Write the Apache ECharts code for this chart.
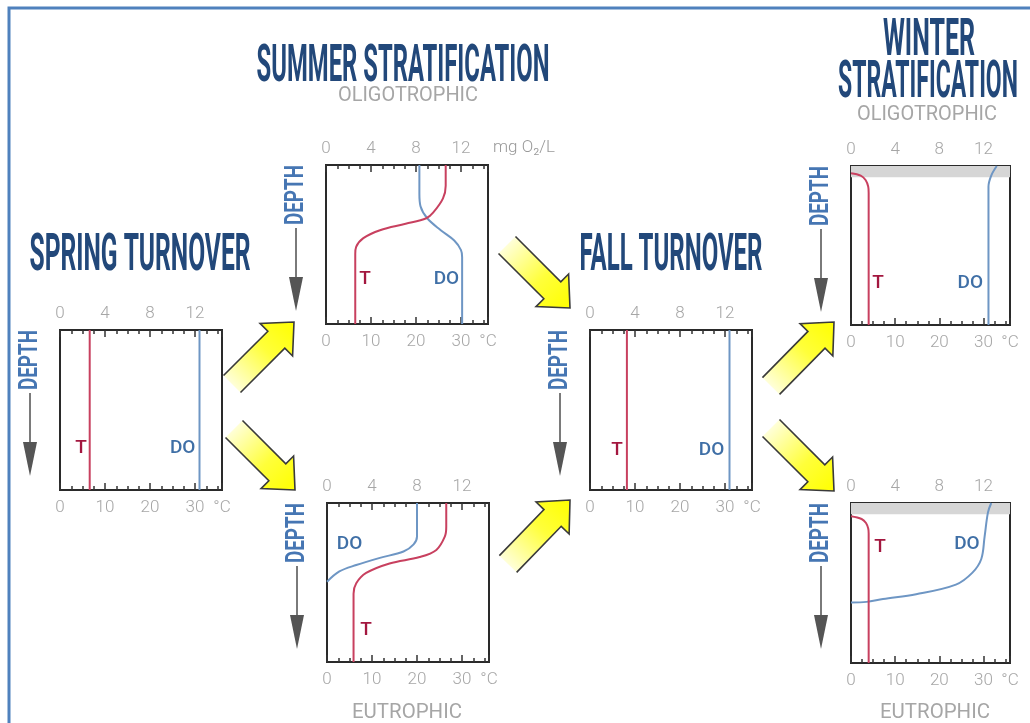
<!DOCTYPE html>
<html>
<head>
<meta charset="utf-8">
<style>
  html, body { margin: 0; padding: 0; background: #fff; }
  #main { width: 1030px; height: 723px; }
</style>
<script src="https://cdn.jsdelivr.net/npm/echarts@6/dist/echarts.min.js"></script>
</head>
<body>
<div id="main"></div>
<script>
// depth profiles as [value, depth %]; T in °C (bottom axis), DO in mg O2/L (top axis)
var springT = [[6.6, 0], [6.6, 100]]
var springDO = [[12.4, 0], [12.4, 100]]
var summerOligoT = [[26.6, 0], [26.6, 13], [26.0, 21], [23.8, 30], [22.3, 33.5], [17.7, 37], [12.0, 41], [8.3, 46], [6.7, 51.5], [6.5, 56], [6.5, 100]]
var summerOligoDO = [[8.3, 0], [8.3, 18], [8.4, 26], [9.0, 33.5], [10.2, 41], [11.4, 47.5], [12.0, 53.5], [12.1, 58], [12.1, 100]]
var summerEutroT = [[26.5, 0], [26.5, 15], [26.2, 21], [24.3, 29.5], [20.6, 34], [13.9, 38], [8.7, 44], [6.5, 50.5], [5.9, 57], [5.9, 100]]
var summerEutroDO = [[8.0, 0], [8.0, 21], [7.7, 26], [6.8, 30.5], [4.7, 34.5], [2.6, 39], [1.1, 43], [0, 49.5]]
var fallT = [[8.2, 0], [8.2, 100]]
var fallDO = [[12.4, 0], [12.4, 100]]
var winterOligoT = [[0, 4.5], [2.2, 6], [3.3, 8.8], [3.9, 13], [4.0, 17], [4.0, 100]]
var winterOligoDO = [[13.2, 0], [12.7, 6], [12.45, 13], [12.45, 100]]
var winterEutroT = [[0, 8.3], [2.4, 10], [3.4, 12.5], [3.9, 16], [4.0, 19], [4.0, 100]]
var winterEutroDO = [[12.7, 0], [12.4, 6], [12.1, 21], [11.8, 35], [11.0, 43.5], [9.5, 51], [5.9, 57], [2.9, 60], [1.4, 61.8], [0, 62.2]]
var iceDepth = 7

var doTickLabels = [0, 4, 8, 12]
var tempTickLabels = [0, 10, 20, 30]
var doMax = 14.4
var tempMax = 36

var panels = [
  { T: springT, DO: springDO, rect: [60, 330, 162, 160], tLab: [4.7, 74], doLab: [10.9, 74] },
  { T: summerOligoT, DO: summerOligoDO, rect: [326, 165, 162, 159], tLab: [8.7, 72], doLab: [10.7, 72], unit: true },
  { T: summerEutroT, DO: summerEutroDO, rect: [327, 503, 162, 159], tLab: [8.7, 80], doLab: [2.0, 26] },
  { T: fallT, DO: fallDO, rect: [590, 330, 162, 160], tLab: [6.0, 75], doLab: [10.8, 75] },
  { T: winterOligoT, DO: winterOligoDO, rect: [851, 166, 159, 159], tLab: [6.1, 73.5], doLab: [10.8, 73.5], ice: true },
  { T: winterEutroT, DO: winterEutroDO, rect: [851, 503, 159, 160], tLab: [6.6, 27.5], doLab: [10.5, 26], ice: true }
]

var red = '#c8405f'
var blue = '#6e96c4'
var labelRed = '#a3173f'
var labelBlue = '#3f6fa6'
var navy = '#22487a'
var grayText = '#a6a6a6'

var chartDom = document.getElementById('main')
var myChart = echarts.init(chartDom)

var measureCtx = document.createElement('canvas').getContext('2d')
function fitText (text, cx, cy, font, width, color, rotation) {
  measureCtx.font = font
  var w = measureCtx.measureText(text).width
  return {
    type: 'text',
    x: cx,
    y: cy,
    rotation: rotation || 0,
    scaleX: width / w,
    silent: true,
    style: {
      text: text, font: font, fill: color,
      textAlign: 'center', textVerticalAlign: 'middle', align: 'center', verticalAlign: 'middle'
    }
  }
}

function blockArrow (tail, tip) {
  var dx = tip[0] - tail[0]
  var dy = tip[1] - tail[1]
  var len = Math.sqrt(dx * dx + dy * dy)
  var ux = dx / len, uy = dy / len
  var nx = -uy, ny = ux
  var sw = 12, hw = 23, hl = 25
  var bx = tip[0] - ux * hl, by = tip[1] - uy * hl
  var pts = [
    [tail[0] + nx * sw, tail[1] + ny * sw],
    [bx + nx * sw, by + ny * sw],
    [bx + nx * hw, by + ny * hw],
    tip,
    [bx - nx * hw, by - ny * hw],
    [bx - nx * sw, by - ny * sw],
    [tail[0] - nx * sw, tail[1] - ny * sw]
  ]
  var x0 = dx > 0 ? 0 : 1
  var y0 = dy > 0 ? 0 : 1
  var fill = new echarts.graphic.LinearGradient(x0, y0, 1 - x0, 1 - y0, [
    { offset: 0, color: '#ffffff' },
    { offset: 0.6, color: '#ffff3a' },
    { offset: 1, color: '#ffff00' }
  ])
  return [
    { type: 'polygon', silent: true, shape: { points: pts }, style: { fill: fill, stroke: null } },
    { type: 'polyline', silent: true, shape: { points: pts }, style: { fill: null, stroke: '#3a3a3a', lineWidth: 1.6 } }
  ]
}

var grid = []
var xAxis = []
var yAxis = []
var series = []
var graphic = [
  { type: 'rect', silent: true, shape: { x: 9, y: 8, width: 1040, height: 740 }, style: { fill: null, stroke: '#4f81bd', lineWidth: 3 } }
]

var tickStyle = { color: '#333', width: 1.5 }
var axisFont = { color: grayText, fontSize: 17, fontFamily: 'Roboto', fontWeight: 300 }

panels.forEach(function (p, i) {
  var r = p.rect
  grid.push({ left: r[0], top: r[1], width: r[2], height: r[3], show: true, borderColor: '#2a2a2a', borderWidth: 2, backgroundColor: '#fff' })
  xAxis.push({
    type: 'value', gridIndex: i, position: 'top', min: 0, max: doMax, interval: 4,
    axisLine: { show: false }, splitLine: { show: false },
    axisTick: { show: true, inside: true, length: 7, lineStyle: tickStyle },
    minorTick: { show: true, splitNumber: 4, length: 4, lineStyle: tickStyle },
    axisLabel: Object.assign({ margin: 8, formatter: function (v) { return doTickLabels.indexOf(v) >= 0 ? String(v) : '' } }, axisFont)
  })
  xAxis.push({
    type: 'value', gridIndex: i, position: 'bottom', min: 0, max: tempMax, interval: 10,
    axisLine: { show: false }, splitLine: { show: false },
    axisTick: { show: true, inside: true, length: 7, lineStyle: tickStyle },
    minorTick: { show: true, splitNumber: 4, length: 4, lineStyle: tickStyle },
    axisLabel: Object.assign({
      margin: 9,
      formatter: function (v) {
        if (v === tempMax) return '°C'
        return tempTickLabels.indexOf(v) >= 0 ? String(v) : ''
      }
    }, axisFont)
  })
  yAxis.push({ type: 'value', gridIndex: i, min: 0, max: 100, inverse: true, show: false })

  var doSeries = {
    type: 'line', name: 'DO', xAxisIndex: 2 * i, yAxisIndex: i, data: p.DO,
    showSymbol: false, smooth: 0.35, z: 3,
    lineStyle: { color: blue, width: 2 },
    markPoint: {
      silent: true, symbol: 'rect', symbolSize: 1, itemStyle: { color: 'rgba(0,0,0,0)' },
      label: { show: true, position: 'inside', formatter: 'DO', color: labelBlue, fontSize: 19, fontFamily: 'Roboto', fontWeight: 500 },
      data: [{ coord: p.doLab }]
    }
  }
  if (p.ice) {
    doSeries.markArea = { silent: true, itemStyle: { color: '#d6d6d6' }, data: [[{ yAxis: 0 }, { yAxis: iceDepth }]] }
  }
  series.push(doSeries)
  series.push({
    type: 'line', name: 'T', xAxisIndex: 2 * i + 1, yAxisIndex: i, data: p.T,
    showSymbol: false, smooth: 0.35, z: 4,
    lineStyle: { color: red, width: 2 },
    markPoint: {
      silent: true, symbol: 'rect', symbolSize: 1, itemStyle: { color: 'rgba(0,0,0,0)' },
      label: { show: true, position: 'inside', formatter: 'T', color: labelRed, fontSize: 19, fontFamily: 'Roboto', fontWeight: 500 },
      data: [{ coord: p.tLab }]
    }
  })

  // DEPTH label with a downward arrow left of each panel
  var dx = r[0] - 30
  graphic.push(fitText('DEPTH', dx, r[1] + 30, 'bold 26px Roboto', 60, '#4676b3', Math.PI / 2))
  graphic.push({ type: 'line', silent: true, shape: { x1: dx, y1: r[1] + 63, x2: dx, y2: r[1] + 114 }, style: { stroke: '#7a7a7a', lineWidth: 2 } })
  graphic.push({ type: 'polygon', silent: true, shape: { points: [[dx - 7, r[1] + 112], [dx + 7, r[1] + 112], [dx, r[1] + 146]] }, style: { fill: '#555' } })

  if (p.unit) {
    graphic.push(fitText('mg O₂/L', r[0] + r[2] + 36, r[1] - 17, '300 17px Roboto', 62, '#999'))
  }
})

// titles
graphic.push(fitText('SUMMER STRATIFICATION', 403, 68, 'bold 52px Roboto', 293, navy))
graphic.push(fitText('OLIGOTROPHIC', 408, 96, '20px Roboto', 140, grayText))
graphic.push(fitText('SPRING TURNOVER', 140, 257, 'bold 51px Roboto', 221, navy))
graphic.push(fitText('FALL TURNOVER', 671, 257, 'bold 51px Roboto', 183, navy))
graphic.push(fitText('WINTER', 929, 42, 'bold 51px Roboto', 92, navy))
graphic.push(fitText('STRATIFICATION', 928, 84, 'bold 51px Roboto', 180, navy))
graphic.push(fitText('OLIGOTROPHIC', 927, 115, '20px Roboto', 140, grayText))
graphic.push(fitText('EUTROPHIC', 407, 713, '20px Roboto', 110, grayText))
graphic.push(fitText('EUTROPHIC', 935, 713, '20px Roboto', 110, grayText))

// yellow transition arrows
;[
  [[232, 384], [294, 322]],
  [[234, 429], [295, 490]],
  [[507, 245], [570, 308]],
  [[508, 564], [570, 500]],
  [[771, 386], [834, 322]],
  [[771, 428], [834, 491]]
].forEach(function (a) {
  blockArrow(a[0], a[1]).forEach(function (g) { graphic.push(g) })
})

var option = {
  backgroundColor: '#fff',
  animation: false,
  grid: grid,
  xAxis: xAxis,
  yAxis: yAxis,
  series: series,
  graphic: graphic
}

option && myChart.setOption(option)
</script>
</body>
</html>
